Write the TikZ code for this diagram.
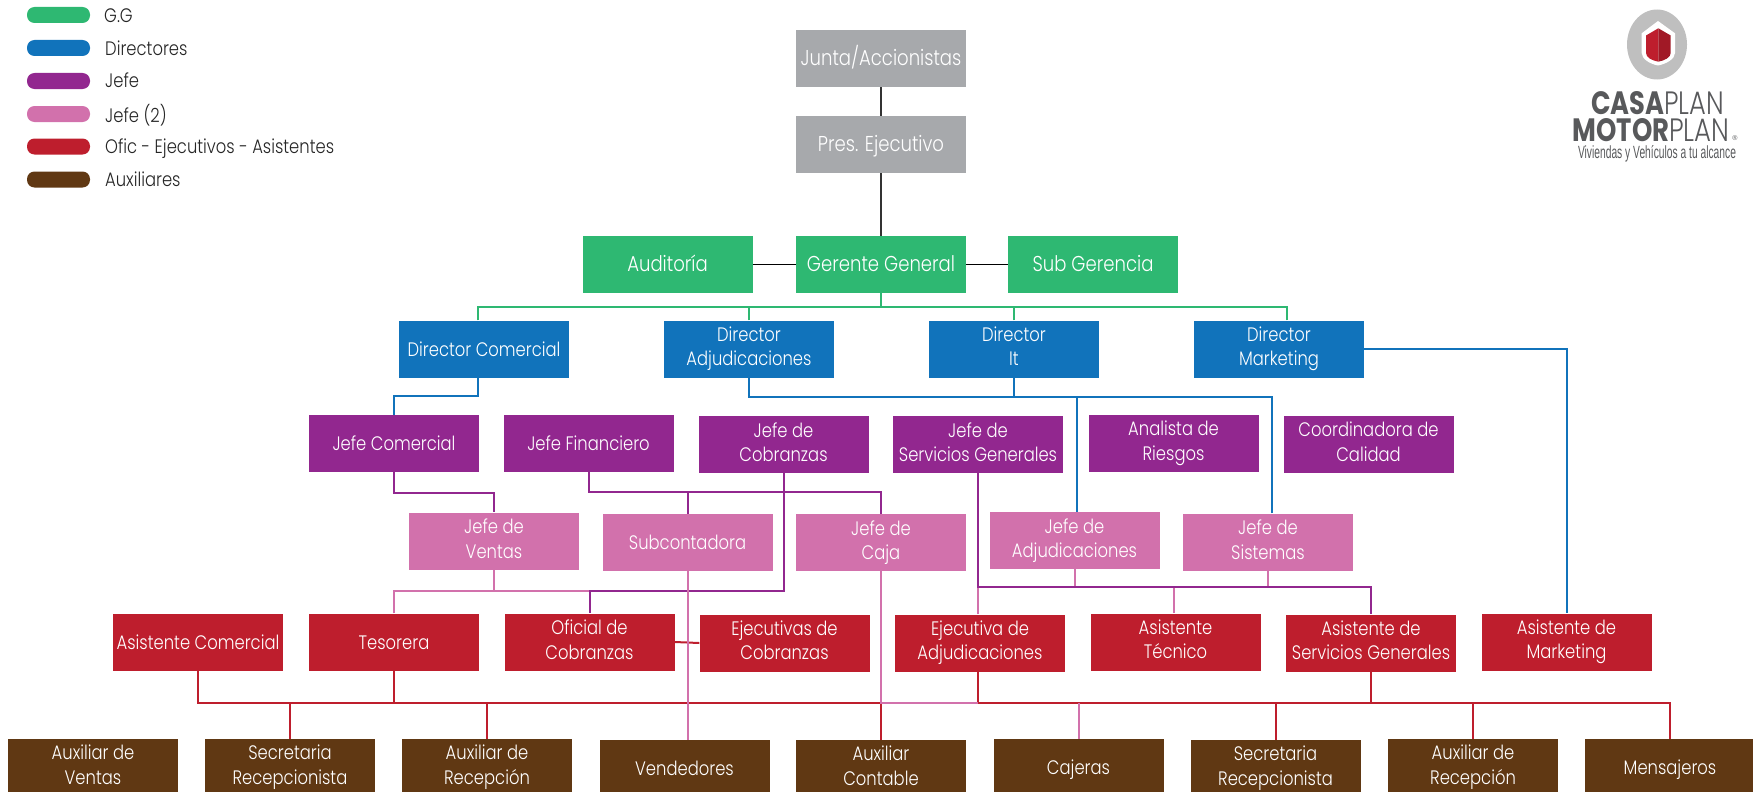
\documentclass[tikz,border=0pt]{standalone}
\usepackage{graphicx}
\usepackage{fontspec}
\setmainfont{Poppins}[FakeStretch=0.84,UprightFont=* Light]
\newfontfamily\logob{Poppins}[BoldFont=* Bold,UprightFont=* Light]
\newfontfamily\logoc{Liberation Sans}
\definecolor{cgray}{HTML}{A7A9AC}
\definecolor{cgreen}{HTML}{2EB872}
\definecolor{cblue}{HTML}{1173BB}
\definecolor{cpurple}{HTML}{92278F}
\definecolor{cpink}{HTML}{D271AC}
\definecolor{cred}{HTML}{BE1E2D}
\definecolor{cbrown}{HTML}{603813}
\definecolor{clogo}{HTML}{58595B}
\newcommand\orgstrut{\rule[-5.25pt]{0pt}{24.5pt}}
\tikzset{
  orgbox/.style={rectangle,minimum width=170pt,minimum height=57pt,inner sep=0pt,
    align=center,text=white,font=\fontsize{19.5}{24.5}\selectfont,
    execute at begin node=\orgstrut,execute at end node=\orgstrut},
  topbox/.style={orgbox,font=\fontsize{21.5}{24.5}\selectfont},
  gbox/.style={topbox,fill=cgray},
  gnbox/.style={topbox,fill=cgreen},
  blbox/.style={orgbox,fill=cblue},
  pubox/.style={orgbox,fill=cpurple},
  pkbox/.style={orgbox,fill=cpink},
  rdbox/.style={orgbox,fill=cred},
  brbox/.style={orgbox,fill=cbrown},
  pill/.style={rectangle,rounded corners=7.5pt,minimum width=63pt,minimum height=16pt,inner sep=0pt},
  legtext/.style={anchor=west,inner sep=0pt,text=black!85,font=\fontsize{19.5}{22}\selectfont},
  conn/.style={line width=2pt},
  lblack/.style={conn,draw=black!80},
  lgreen/.style={conn,draw=cgreen},
  lblue/.style={conn,draw=cblue},
  lpurple/.style={conn,draw=cpurple},
  lpink/.style={conn,draw=cpink},
  lred/.style={conn,draw=cred}
}
\begin{document}
\begin{tikzpicture}[x=1pt,y=-1pt]
\useasboundingbox (0,0) rectangle (1753,792);
\clip (0,0) rectangle (1753,792);
% nodes
\node[gbox] (jun) at (881,58.5) {Junta/Accionistas};
\node[gbox] (pre) at (881,144.5) {Pres. Ejecutivo};
\node[gnbox] (aud) at (667.5,264.5) {Auditoría};
\node[gnbox] (ger) at (881,264.5) {Gerente General};
\node[gnbox] (sub) at (1093,264.5) {Sub Gerencia};
\node[blbox] (dcom) at (484,349) {Director Comercial};
\node[blbox] (dadj) at (749,349) {Director\\Adjudicaciones};
\node[blbox] (dit) at (1014,349) {Director\\It};
\node[blbox] (dmk) at (1279,349) {Director\\Marketing};
\node[pubox] (jcom) at (394,443.5) {Jefe Comercial};
\node[pubox] (jfin) at (588.5,443.5) {Jefe Financiero};
\node[pubox] (jcob) at (783.5,444.5) {Jefe de\\Cobranzas};
\node[pubox] (jser) at (978,444.5) {Jefe de\\Servicios Generales};
\node[pubox] (ana) at (1173.5,443.5) {Analista de\\Riesgos};
\node[pubox] (coo) at (1368.5,444.5) {Coordinadora de\\Calidad};
\node[pkbox] (jven) at (494,541) {Jefe de\\Ventas};
\node[pkbox] (sbc) at (687.5,542.5) {Subcontadora};
\node[pkbox] (jcaj) at (881,542.5) {Jefe de\\Caja};
\node[pkbox] (jadj) at (1074.5,540.5) {Jefe de\\Adjudicaciones};
\node[pkbox] (jsis) at (1268,542) {Jefe de\\Sistemas};
\node[rdbox] (atc) at (198,642) {Asistente Comercial};
\node[rdbox] (tes) at (394,642) {Tesorera};
\node[rdbox] (ofi) at (589.5,642) {Oficial de\\Cobranzas};
\node[rdbox] (eco) at (784.5,643) {Ejecutivas de\\Cobranzas};
\node[rdbox] (ead) at (980,643) {Ejecutiva de\\Adjudicaciones};
\node[rdbox] (ate) at (1175.5,642) {Asistente\\Técnico};
\node[rdbox] (ase) at (1371,643) {Asistente de\\Servicios Generales};
\node[rdbox] (amk) at (1566.5,642) {Asistente de\\Marketing};
\node[brbox] (avt) at (93,767.5) {Auxiliar de\\Ventas};
\node[brbox] (sc1) at (290,767.5) {Secretaria\\Recepcionista};
\node[brbox] (ar1) at (487,767.5) {Auxiliar de\\Recepción};
\node[brbox] (ven) at (684.5,768.5) {Vendedores};
\node[brbox] (aco) at (881,768.5) {Auxiliar\\Contable};
\node[brbox] (caj) at (1078.5,767.5) {Cajeras};
\node[brbox] (sc2) at (1275.5,768.5) {Secretaria\\Recepcionista};
\node[brbox] (ar2) at (1473,767.5) {Auxiliar de\\Recepción};
\node[brbox] (men) at (1670,767.5) {Mensajeros};
% bus coordinates
\coordinate (busG) at (881,306.5);
\coordinate (busB) at (1014,396.5);
\coordinate (busF) at (687.5,492);
\coordinate (busV) at (494,591);
\coordinate (busO) at (590.5,591);
\coordinate (busS) at (1173.5,587);
\coordinate (busR) at (881,702.5);
\coordinate (busQ) at (978,702.5);
% black
\draw[lblack] (jun) -- (pre);
\draw[lblack] (pre) -- (ger);
\draw[lblack,draw=black,line width=1.6pt] (aud) -- (ger);
\draw[lblack,draw=black,line width=1.6pt] (ger) -- (sub);
% green
\draw[lgreen] (ger.south) -- (busG);
\draw[lgreen] ([xshift=-6pt]dcom.north) |- (busG);
\draw[lgreen] (dadj.north) |- (busG);
\draw[lgreen] (dit.north) |- (busG);
\draw[lgreen] ([xshift=8pt]dmk.north) |- (busG);
% blue
\draw[lblue] ([xshift=-6pt]dcom.south) -- ++(0,18.5) -| (jcom.north);
\draw[lblue] (dadj.south) |- (busB);
\draw[lblue] (dit.south) -- (busB);
\draw[lblue] ([xshift=2pt]jadj.north) |- (busB);
\draw[lblue] ([xshift=4pt]jsis.north) |- (busB);
\draw[lblue] (dmk.east) -| (amk.north);
% pink (below purple)
\draw[lpink] (jven.south) |- (busV);
\draw[lpink] (tes.north) |- (busO);
\draw[lpink] ([xshift=-2pt]ead.north) -- (jser.south |- busS);
\draw[lpink] (jadj.south) -- (jadj.south |- busS);
\draw[lpink] (jsis.south) -- (jsis.south |- busS);
\draw[lpink] (busS) -- (busS |- ate.north);
% purple
\draw[lpurple] (jcom.south) -- ++(0,21) -| (jven.north);
\draw[lpurple] (jfin.south) |- (busF);
\draw[lpurple] (busF) -| (jcaj.north);
\draw[lpurple] (busF) -- (sbc.north);
\draw[lpurple] (jcob.south) |- (busO) -- (ofi.north |- busO) -- (ofi.north);
\draw[lpurple] (jser.south) |- (busS);
\draw[lpurple] (busS) -| (ase.north);
% red
\draw[lred] (atc.south) |- (busR);
\draw[lred] (tes.south) -- (tes.south |- busR);
\draw[lred] (sc1.north) -- (sc1.north |- busR);
\draw[lred] (ar1.north) -- (ar1.north |- busR);
\draw[lred] (busR) -- (aco.north);
\draw[lred] (ofi.east) -- (eco.west);
\draw[lred] ([xshift=-2pt]ead.south) -- (busQ);
\draw[lred] (ase.south) -- (ase.south |- busQ);
\draw[lred] (busQ) -| (men.north);
\draw[lred] (sc2.north) -- (sc2.north |- busQ);
\draw[lred] (ar2.north) -- (ar2.north |- busQ);
% pink over red
\draw[lpink] (sbc.south) -- (sbc.south |- ven.north);
\draw[lpink] (jcaj.south) -- (busR) -- (busQ);
\draw[lpink] (caj.north) -- (caj.north |- busQ);
% legend
\node[pill,fill=cgreen] (p1) at (58.5,15) {};
\node[pill,fill=cblue] (p2) at (58.5,48) {};
\node[pill,fill=cpurple] (p3) at (58.5,81) {};
\node[pill,fill=cpink] (p4) at (58.5,114) {};
\node[pill,fill=cred] (p5) at (58.5,146.5) {};
\node[pill,fill=cbrown] (p6) at (58.5,179.5) {};
\node[legtext] (t1) at (104,16) {G.G};
\node[legtext] (t2) at (105,48) {Directores};
\node[legtext] (t3) at (105,80) {Jefe};
\node[legtext] (t4) at (105,115) {Jefe (2)};
\node[legtext] (t5) at (105,148.5) {Ofic - Ejecutivos - Asistentes};
\node[legtext] (t6) at (105,179) {Auxiliares};
% logo
\fill[black!25] (1657,44.5) ellipse [x radius=30pt,y radius=35pt];
\fill[white] (1658,21) -- (1675,33.3) -- (1675,53) .. controls (1675,59) and (1666,64) .. (1658,65.5) .. controls (1650,64) and (1641.7,59) .. (1641.7,53) -- (1641.7,33.3) -- cycle;
\fill[cred] (1658.3,28.3) -- (1658.3,61.7) .. controls (1652,60.5) and (1646,57.5) .. (1646,53) -- (1646,35.5) -- cycle;
\fill[cred!85!black] (1658.3,28.3) -- (1670.7,35.5) -- (1670.7,53) .. controls (1670.7,57.5) and (1664.5,60.5) .. (1658.3,61.7) -- cycle;
\node[inner sep=0pt,text=clogo] (l1) at (1657.5,103.3) {\resizebox{133pt}{23pt}{\logob\textbf{CASA}PLAN}};
\node[inner sep=0pt,text=clogo] (l2) at (1651,130) {\resizebox{157pt}{23pt}{\logob\textbf{MOTOR}PLAN}};
\node[inner sep=0pt,text=clogo] (l3) at (1735,138) {\logoc\fontsize{7}{8}\selectfont ®};
\node[inner sep=0pt,text=clogo] (l4) at (1657,153.5) {\resizebox{158pt}{13pt}{\logoc Viviendas y Vehículos a tu alcance}};
\end{tikzpicture}
\end{document}
